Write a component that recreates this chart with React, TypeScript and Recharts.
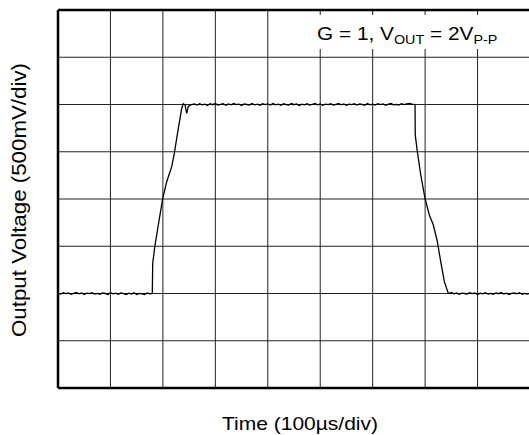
import React from "react";
import { LineChart, Line, XAxis, YAxis, ReferenceLine } from "recharts";

// Time in microseconds (100 µs/div), output voltage in volts (500 mV/div)
const xTicks = [0, 100, 200, 300, 400, 500, 600, 700, 800, 900];
const yTicks = [-1, -0.5, 0, 0.5, 1, 1.5, 2, 2.5, 3];

const lowStartTime = [0, 5, 10, 15, 20, 25, 30, 35, 40, 45, 50, 55, 60, 65, 70, 75, 80, 85, 90, 95, 100, 105, 110, 115, 120, 125, 130, 135, 140, 145, 150, 155, 160, 165, 170, 175];
const lowStartV = [
  0.004, -0.006, 0.008, -0.002, 0.006, -0.008,
  0.002, 0.01, -0.004, 0.006, -0.01, 0.004,
  -0.002, 0.008, -0.006, 0.002, -0.008, 0.006,
  0.0, -0.01, 0.008, -0.004, 0.004, -0.008,
  0.006, -0.002, -0.012, 0.004, -0.006, 0.008,
  -0.01, 0.002, -0.004, -0.012, 0.006, -0.004,
];

const riseTime = [179.8, 180.6, 185.0, 191.3, 199.7, 207.3, 216.8, 221.8, 229.4, 235.9, 238.9, 242.2, 245.4, 248.5, 254.9];
const riseV = [0.0, 0.32, 0.513, 0.725, 1.007, 1.183, 1.342, 1.484, 1.748, 1.96, 2.008, 1.995, 1.907, 1.98, 2.0];

const highTime = [
  260, 265, 270, 275, 280, 285, 290, 295, 300, 305, 310, 315, 320, 325, 330, 335, 340, 345, 350, 355, 360,
  365, 370, 375, 380, 385, 390, 395, 400, 405, 410, 415, 420, 425, 430, 435, 440, 445, 450, 455, 460, 465,
  470, 475, 480, 485, 490, 495, 500, 505, 510, 515, 520, 525, 530, 535, 540, 545, 550, 555, 560, 565, 570,
  575, 580, 585, 590, 595, 600, 605, 610, 615, 620, 625, 630, 635, 640, 645, 650, 655, 660, 665, 670, 675,
];
const highV = [
  2.006, 1.994, 2.008, 1.996, 2.004, 1.99,
  2.008, 1.998, 2.01, 1.994, 2.002, 2.008,
  1.992, 2.006, 1.996, 2.01, 1.998, 2.004,
  1.99, 2.006, 2.0, 1.994, 2.01, 1.996,
  2.004, 1.992, 2.008, 1.998, 2.006, 1.994,
  2.01, 1.996, 2.004, 1.992, 2.008, 2.0,
  1.994, 2.01, 1.998, 2.006, 1.99, 2.004,
  1.996, 2.008, 1.994, 2.002, 2.01, 1.996,
  2.006, 1.992, 2.004, 1.998, 2.008, 1.994,
  2.002, 2.01, 1.996, 2.006, 1.992, 2.004,
  1.998, 2.008, 1.994, 2.006, 2.0, 1.992,
  2.01, 1.996, 2.004, 1.994, 2.008, 1.998,
  2.006, 1.992, 2.004, 2.01, 1.996, 2.002,
  1.994, 2.008, 1.998, 2.006, 2.012, 2.004,
];

const fallTime = [680.8, 681.2, 685.2, 691.7, 699.8, 708.0, 715.7, 723.3, 729.8, 736.7, 744.3];
const fallV = [2.0, 1.677, 1.5, 1.254, 1.007, 0.831, 0.725, 0.548, 0.337, 0.125, 0.0];

const lowEndTime = [750, 755, 760, 765, 770, 775, 780, 785, 790, 795, 800, 805, 810, 815, 820, 825, 830, 835, 840, 845, 850, 855, 860, 865, 870, 875, 880, 885, 890, 895, 900];
const lowEndV = [
  0.01, -0.004, 0.006, -0.008, 0.004, 0.0,
  -0.006, 0.008, -0.002, 0.006, -0.01, 0.004,
  -0.004, 0.008, -0.006, 0.002, -0.008, 0.006,
  -0.002, 0.01, -0.006, 0.004, -0.01, 0.002,
  0.006, -0.004, 0.008, -0.008, 0.002, -0.006,
  0.004,
];

const allTime = [...lowStartTime, ...riseTime, ...highTime, ...fallTime, ...lowEndTime];
const allV = [...lowStartV, ...riseV, ...highV, ...fallV, ...lowEndV];
const data = allTime.map((t, i) => ({ t, v: allV[i] }));

const FONT = "'Liberation Sans', Arial, Helvetica, sans-serif";

export default function App() {
  return (
    <div style={{ position: "absolute", left: 0, top: 0, width: 529, height: 435, overflow: "hidden", background: "#fff" }}>
      <LineChart width={530} height={435} data={data} margin={{ top: 10, right: 0, bottom: 47, left: 58 }}>
        <XAxis
          type="number"
          dataKey="t"
          domain={[0, 900]}
          ticks={xTicks}
          height={0}
          tick={false}
          tickLine={false}
          axisLine={false}
          allowDataOverflow
        />
        <YAxis
          type="number"
          domain={[-1, 3]}
          ticks={yTicks}
          width={0}
          tick={false}
          tickLine={false}
          axisLine={false}
          allowDataOverflow
        />
        {xTicks.map((x) => (
          <ReferenceLine key={`gx${x}`} x={x} stroke="#222" strokeWidth={1} />
        ))}
        {yTicks.map((y) => (
          <ReferenceLine key={`gy${y}`} y={y} stroke="#222" strokeWidth={1} />
        ))}
        <Line
          type="linear"
          dataKey="v"
          stroke="#000"
          strokeWidth={1.3}
          dot={false}
          isAnimationActive={false}
        />
        <ReferenceLine x={0} stroke="#000" strokeWidth={2.5} />
        <ReferenceLine y={3} stroke="#000" strokeWidth={2.5} />
        <ReferenceLine y={-1} stroke="#000" strokeWidth={2.5} />
      </LineChart>
      <svg width={529} height={435} style={{ position: "absolute", left: 0, top: 0, pointerEvents: "none" }}>
        <rect x={308} y={15} width={221} height={34} fill="#fff" />
        <g transform="translate(317 40) scale(1.12 1)">
          <text x={0} y={0} fontFamily={FONT} fontSize={18.6} fill="#000">
            G = 1, V
            <tspan dy={4} fontSize={12.8}>OUT</tspan>
            <tspan dy={-4} fontSize={18.6}> = 2V</tspan>
            <tspan dy={4} fontSize={12.8}>P-P</tspan>
          </text>
        </g>
        <text
          x={26}
          y={200}
          transform="rotate(-90 26 200)"
          textAnchor="middle"
          fontFamily={FONT}
          fontSize={20}
          textLength={274}
          lengthAdjust="spacingAndGlyphs"
          fill="#000"
        >
          Output Voltage (500mV/div)
        </text>
        <text
          x={300}
          y={430}
          textAnchor="middle"
          fontFamily={FONT}
          fontSize={18.6}
          textLength={156}
          lengthAdjust="spacingAndGlyphs"
          fill="#000"
        >
          Time (100µs/div)
        </text>
      </svg>
    </div>
  );
}
